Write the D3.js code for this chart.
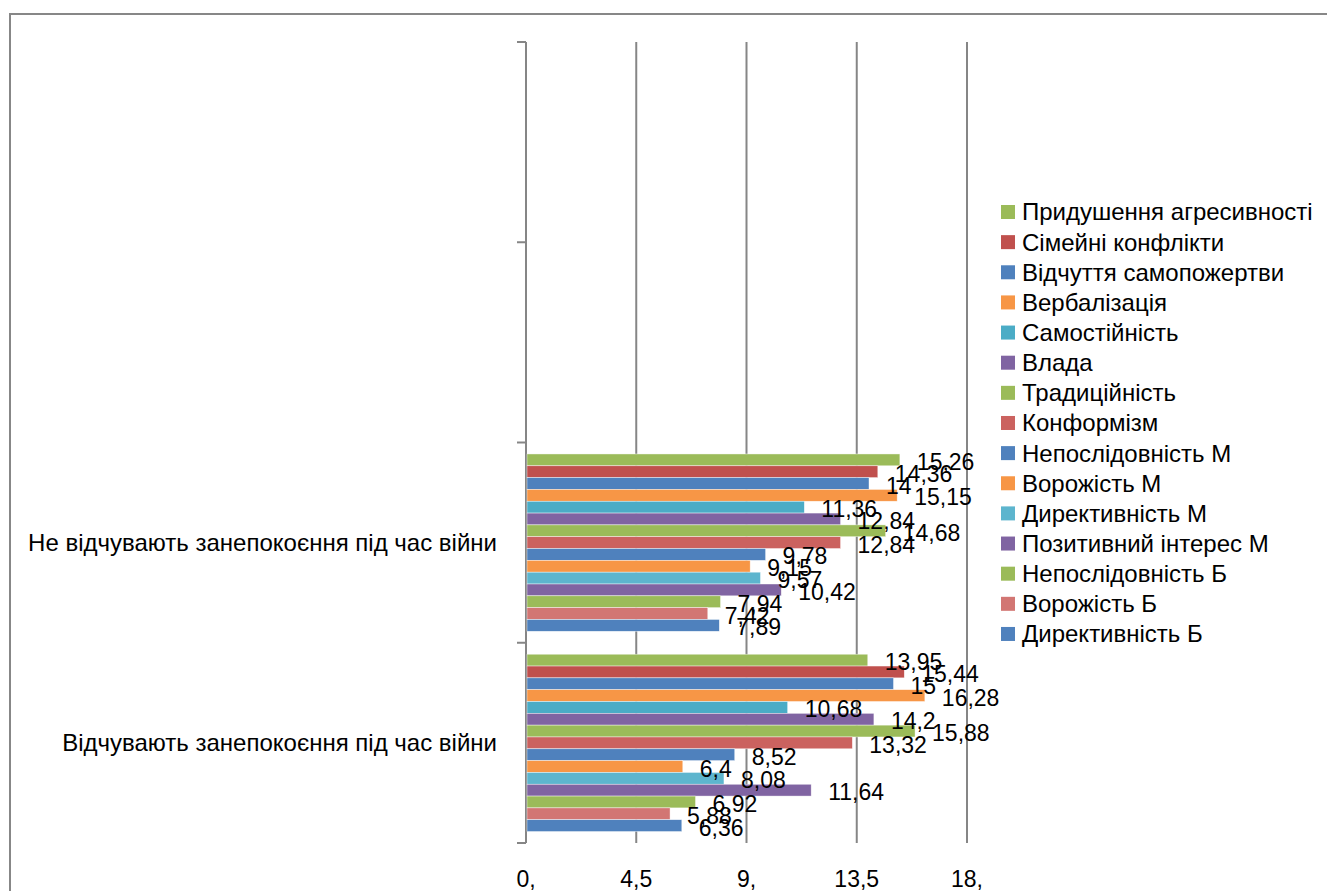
<!DOCTYPE html>
<html>
<head>
<meta charset="utf-8">
<script src="https://cdn.jsdelivr.net/npm/d3@7"></script>
<style>
  html, body { margin: 0; padding: 0; background: #fff; }
  svg { display: block; font-family: "Liberation Sans", Arial, sans-serif; }
</style>
</head>
<body>
<div id="chart"></div>
<script>
// categories, bottom to top like the original (two empty slots on top)
const categories = ["Відчувають занепокоєння під час війни", "Не відчувають занепокоєння під час війни", "", ""];

// series in legend order (top to bottom)
const seriesNames = [
  "Придушення агресивності", "Сімейні конфлікти", "Відчуття самопожертви", "Вербалізація",
  "Самостійність", "Влада", "Традиційність", "Конформізм", "Непослідовність М", "Ворожість М",
  "Директивність М", "Позитивний інтерес М", "Непослідовність Б", "Ворожість Б", "Директивність Б"
];
const seriesColors = [
  "#9BBB59", "#C0504D", "#4F81BD", "#F79646", "#4BACC6", "#8064A2", "#9BBB59", "#CB625F",
  "#4F81BD", "#F79646", "#5DB5CE", "#8064A2", "#9BBB59", "#D27673", "#4F81BD"
];

// values per category, same order as seriesNames
const valuesAnxious    = [13.95, 15.44, 15, 16.28, 10.68, 14.2, 15.88, 13.32, 8.52, 6.4, 8.08, 11.64, 6.92, 5.88, 6.36];
const valuesNotAnxious = [15.26, 14.36, 14, 15.15, 11.36, 12.84, 14.68, 12.84, 9.78, 9.15, 9.57, 10.42, 7.94, 7.42, 7.89];
const categoryValues = [valuesAnxious, valuesNotAnxious, null, null];

const xTicks = [0, 4.5, 9, 13.5, 18];
const xTickLabels = ["0,", "4,5", "9,", "13,5", "18,"];

const fmt = v => String(v).replace(".", ",");

// --- layout ---
const W = 1327, H = 891;
const plot = { left: 526, right: 967, top: 42, bottom: 843 };
const axisColor = "#868686";

const svg = d3.select("#chart").append("svg")
  .attr("width", W).attr("height", H);

// outer frame (runs off the picture on the right and bottom)
svg.append("rect")
  .attr("x", 10).attr("y", 14)
  .attr("width", W + 20).attr("height", H + 20)
  .attr("fill", "none").attr("stroke", "#878787").attr("stroke-width", 2);

const x = d3.scaleLinear().domain([0, 18]).range([plot.left, plot.right]);
const y = d3.scaleBand()
  .domain(d3.range(categories.length))
  .range([plot.bottom, plot.top]);
const y1 = d3.scaleBand()
  .domain(seriesNames)
  .range([0, y.bandwidth()])
  .paddingOuter(0.97);

// vertical gridlines
svg.append("g").selectAll("line").data(xTicks).join("line")
  .attr("x1", d => x(d)).attr("x2", d => x(d))
  .attr("y1", plot.top).attr("y2", plot.bottom)
  .attr("stroke", axisColor).attr("stroke-width", 2);

// category axis line + ticks at band edges
svg.append("line")
  .attr("x1", plot.left).attr("x2", plot.left)
  .attr("y1", plot.top).attr("y2", plot.bottom)
  .attr("stroke", axisColor).attr("stroke-width", 2);
const edges = d3.range(categories.length + 1).map(i => plot.bottom - i * y.bandwidth());
svg.append("g").selectAll("line").data(edges).join("line")
  .attr("x1", plot.left - 9).attr("x2", plot.left)
  .attr("y1", d => d).attr("y2", d => d)
  .attr("stroke", axisColor).attr("stroke-width", 2);

// category labels
svg.append("g").selectAll("text").data(d3.range(categories.length)).join("text")
  .attr("x", 497)
  .attr("y", i => y(i) + y.bandwidth() / 2)
  .attr("dy", "0.35em")
  .attr("text-anchor", "end")
  .attr("font-size", 24)
  .attr("fill", "#000")
  .text(i => categories[i]);

// value axis labels
svg.append("g").selectAll("text").data(xTicks).join("text")
  .attr("x", d => x(d))
  .attr("y", 879)
  .attr("dy", "0.35em")
  .attr("text-anchor", "middle")
  .attr("font-size", 23)
  .attr("fill", "#000")
  .text((d, i) => xTickLabels[i]);

// bars + labels
const groups = svg.append("g").selectAll("g")
  .data(d3.range(categories.length).filter(i => categoryValues[i]))
  .join("g")
  .attr("transform", i => `translate(0,${y(i)})`);

groups.selectAll("rect")
  .data(i => seriesNames.map((s, k) => ({ s, k, v: categoryValues[i][k] })))
  .join("rect")
  .attr("x", x(0) + 1)
  .attr("y", d => y1(d.s))
  .attr("width", d => x(d.v) - x(0) - 1)
  .attr("height", y1.bandwidth())
  .attr("fill", d => seriesColors[d.k])
  .attr("stroke", "#fff").attr("stroke-width", 0.6).attr("stroke-opacity", 0.7);

groups.selectAll("text")
  .data(i => seriesNames.map((s, k) => ({ s, k, v: categoryValues[i][k] })))
  .join("text")
  .attr("x", d => x(d.v) + 17)
  .attr("y", d => y1(d.s) + y1.bandwidth() / 2 + 2)
  .attr("dy", "0.35em")
  .attr("font-size", 23)
  .attr("fill", "#000")
  .text(d => fmt(d.v));

// legend
const legend = svg.append("g").selectAll("g").data(seriesNames).join("g")
  .attr("transform", (d, i) => `translate(1001,${212 + i * 30.14})`);
legend.append("rect")
  .attr("x", 0).attr("y", -7)
  .attr("width", 14).attr("height", 14)
  .attr("fill", (d, i) => seriesColors[i]);
legend.append("text")
  .attr("x", 21).attr("y", 0)
  .attr("dy", "0.35em")
  .attr("font-size", 24)
  .attr("fill", "#000")
  .text(d => d);
</script>
</body>
</html>
